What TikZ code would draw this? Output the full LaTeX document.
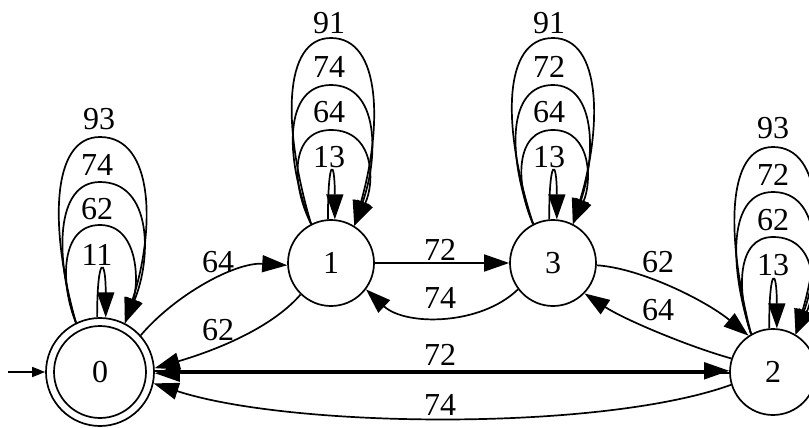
\documentclass[tikz,border=0pt]{standalone}
\usepackage{fontspec}
\setmainfont{Liberation Serif}
\usetikzlibrary{arrows.meta,calc}
\tikzset{
  state/.style={circle, draw, line width=1.7pt, minimum size=86pt, inner sep=0pt},
  edge/.style={line width=1.7pt, -{Triangle[length=25pt,width=17pt]}},
  lbl/.style={inner sep=0pt},
}
\newcommand{\dfaloop}[6]{%
  \draw[edge] (#1.#2) .. controls ($(#1)+({-#5},{-0.6*#4})$) and ($(#1)+({-#5},{-#4})$) .. ($(#1)+(0,{-#4})$)
     .. controls ($(#1)+({#6},{-#4})$) and ($(#1)+({#6},{-0.6*#4})$) .. (#1.#3);}
\newcommand{\dfasmall}[3]{%
  \draw[edge] (#1.#2) .. controls +(0,-62) and +(0,-62) .. (#1.#3);}
\begin{document}
\begin{tikzpicture}[x=1pt,y=-1pt,font=\fontsize{32}{34}\selectfont]
\useasboundingbox (0,0) rectangle (809,428);
\clip (0,0) rectangle (809,428);
% states
\node[state, minimum size=92pt] (n0in) at (100,372) {0};
\node[state, minimum size=108pt] (n0) at (100,372) {};
\node[state] (n1) at (331,263) {1};
\node[state] (n3) at (553,263) {3};
\node[state] (n2) at (773,372) {2};
\coordinate (start) at (8,372);
\draw[line width=1.7pt, -{Triangle[length=13pt,width=10pt]}] (start) -- (n0);
% self loops node 0
\dfasmall{n0}{93}{84}
\dfaloop{n0}{116}{63}{147}{40}{39}
\dfaloop{n0}{116}{63}{190}{45}{52}
\dfaloop{n0}{116}{63}{235}{50}{55}
\node[lbl] (l0a) at (97,255) {11};
\node[lbl] (l0b) at (97,209) {62};
\node[lbl] (l0c) at (97,165) {74};
\node[lbl] (l0d) at (99,119) {93};
% self loops node 1
\dfasmall{n1}{94}{85}
\dfaloop{n1}{117}{58}{133}{40.5}{44}
\dfaloop{n1}{117}{58}{178}{47}{48}
\dfaloop{n1}{117}{58}{225}{48.5}{51}
\node[lbl] (l1a) at (329,157) {13};
\node[lbl] (l1b) at (329,112) {64};
\node[lbl] (l1c) at (329,67) {74};
\node[lbl] (l1d) at (329,23) {91};
% self loops node 3
\dfasmall{n3}{95}{85}
\dfaloop{n3}{117}{63}{133}{38}{39}
\dfaloop{n3}{117}{63}{178}{46}{43}
\dfaloop{n3}{117}{63}{225}{51}{49}
\node[lbl] (l3a) at (549,157) {13};
\node[lbl] (l3b) at (549,112) {64};
\node[lbl] (l3c) at (549,67) {72};
\node[lbl] (l3d) at (549,23) {91};
% self loops node 2
\dfasmall{n2}{95}{85}
\dfaloop{n2}{120}{59}{135}{36.5}{44}
\dfaloop{n2}{120}{59}{180}{44.5}{48}
\dfaloop{n2}{120}{59}{225}{47}{51}
\node[lbl] (l2a) at (773,265) {13};
\node[lbl] (l2b) at (773,220) {62};
\node[lbl] (l2c) at (773,175) {72};
\node[lbl] (l2d) at (773,128) {93};
% transitions
\draw[edge] (n0.42) .. controls (175,295) and (235,262) .. (n1.183);
\node[lbl] (e01) at (218,262) {64};
\draw[edge] (n1.226) .. controls (270,330) and (210,352) .. (n0.4);
\node[lbl] (e10) at (218,330) {62};
\draw[edge] (n1.east) -- (n3.west);
\node[lbl] (e13) at (440,250) {72};
\draw[edge] (n3.217) .. controls (480,326) and (405,326) .. (n1.323);
\node[lbl] (e31) at (440,298) {74};
\draw[edge] (n3.357) .. controls (640,268) and (705,300) .. (n2.124);
\node[lbl] (e32) at (658,262) {62};
\draw[edge] (n2.162) .. controls (690,347) and (625,320) .. (n3.316);
\node[lbl] (e23) at (658,310) {64};
\draw[edge] ([yshift=1.2pt]n0.east) -- ([yshift=1.2pt]n2.west);
\draw[edge] ([yshift=-1.2pt]n2.west) -- ([yshift=-1.2pt]n0.east);
\node[lbl] (e02) at (440,355) {72};
\draw[edge] (n2.197) .. controls (600,432) and (290,428) .. (n0.348);
\node[lbl] (e20) at (440,405) {74};
\end{tikzpicture}
\end{document}
